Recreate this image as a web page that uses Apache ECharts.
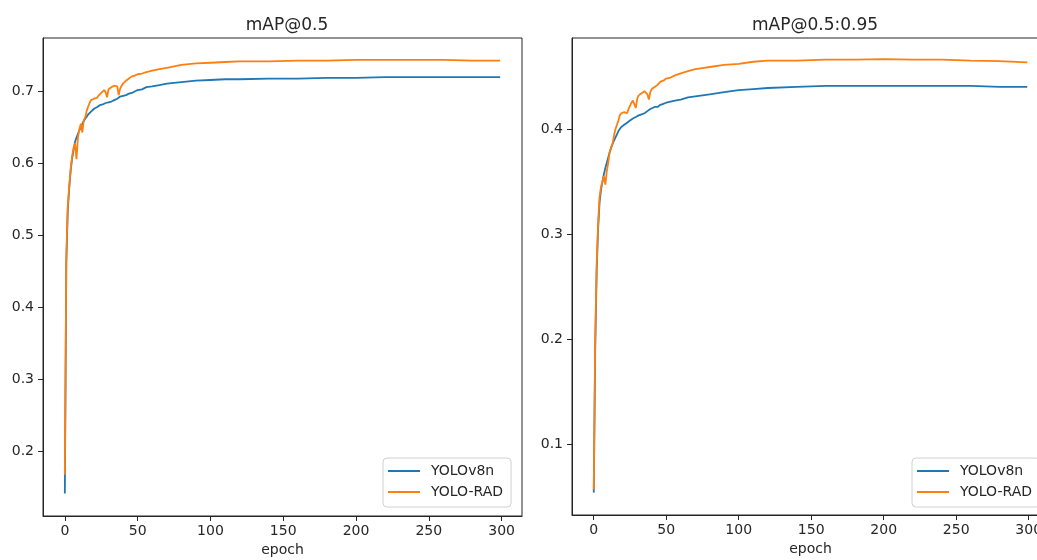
<!DOCTYPE html>
<html>
<head>
<meta charset="utf-8">
<script src="https://cdn.jsdelivr.net/npm/echarts@6/dist/echarts.min.js"></script>
<style>
  html, body { margin: 0; padding: 0; background: #fff; }
  #chart { width: 1037px; height: 560px; }
</style>
</head>
<body>
<div id="chart"></div>
<script>
// sampled epochs (dense where the curves are noisy)
const epochs = [
  0, 1, 2, 3, 4, 5, 6, 7, 8, 9,
  10, 11, 12, 13, 14, 15, 16, 17, 18, 19,
  20, 21, 22, 23, 24, 25, 26, 27, 28, 29,
  30, 31, 32, 33, 34, 35, 36, 37, 38, 39,
  40, 42, 44, 46, 48, 50, 53, 56, 60, 65,
  70, 75, 80, 90, 100, 110, 120, 140, 160, 180,
  200, 220, 240, 260, 280, 299
];

const map50V8n = [
  0.141, 0.46, 0.535, 0.565, 0.590, 0.607, 0.618, 0.630, 0.636, 0.641,
  0.646, 0.651, 0.655, 0.659, 0.662, 0.665, 0.668, 0.670, 0.672, 0.674,
  0.676, 0.677, 0.678, 0.680, 0.681, 0.681, 0.682, 0.683, 0.684, 0.684,
  0.685, 0.685, 0.686, 0.686, 0.688, 0.689, 0.690, 0.692, 0.693, 0.693,
  0.694, 0.695, 0.697, 0.698, 0.700, 0.702, 0.703, 0.706, 0.707, 0.709,
  0.711, 0.712, 0.713, 0.715, 0.716, 0.717, 0.717, 0.718, 0.718, 0.719,
  0.719, 0.720, 0.720, 0.720, 0.720, 0.720
];
const map50Rad = [
  0.167, 0.47, 0.540, 0.568, 0.592, 0.610, 0.622, 0.628, 0.606, 0.636,
  0.648, 0.655, 0.643, 0.660, 0.664, 0.673, 0.679, 0.684, 0.688, 0.689,
  0.690, 0.689, 0.691, 0.694, 0.696, 0.698, 0.700, 0.702, 0.699, 0.692,
  0.703, 0.705, 0.706, 0.707, 0.708, 0.709, 0.707, 0.695, 0.704, 0.708,
  0.711, 0.715, 0.718, 0.721, 0.722, 0.724, 0.725, 0.727, 0.729, 0.731,
  0.733, 0.735, 0.737, 0.739, 0.740, 0.741, 0.742, 0.742, 0.743, 0.743,
  0.744, 0.744, 0.744, 0.744, 0.743, 0.743
];
const map5095V8n = [
  0.054, 0.19, 0.265, 0.305, 0.330, 0.342, 0.350, 0.357, 0.363, 0.368,
  0.373, 0.378, 0.382, 0.386, 0.389, 0.392, 0.395, 0.398, 0.400, 0.402,
  0.403, 0.404, 0.405, 0.406, 0.407, 0.408, 0.409, 0.410, 0.411, 0.4115,
  0.412, 0.413, 0.413, 0.414, 0.415, 0.415, 0.416, 0.417, 0.418, 0.419,
  0.420, 0.421, 0.421, 0.423, 0.424, 0.425, 0.426, 0.427, 0.428, 0.430,
  0.431, 0.432, 0.433, 0.435, 0.437, 0.438, 0.439, 0.440, 0.441, 0.441,
  0.441, 0.441, 0.441, 0.441, 0.440, 0.440
];
const map5095Rad = [
  0.057, 0.20, 0.270, 0.310, 0.335, 0.345, 0.350, 0.355, 0.347, 0.360,
  0.368, 0.378, 0.383, 0.386, 0.394, 0.400, 0.404, 0.408, 0.413, 0.415,
  0.416, 0.416, 0.415, 0.415, 0.419, 0.422, 0.425, 0.427, 0.428, 0.420,
  0.429, 0.432, 0.433, 0.434, 0.435, 0.436, 0.437, 0.433, 0.428, 0.435,
  0.438, 0.440, 0.442, 0.445, 0.446, 0.448, 0.449, 0.451, 0.453, 0.455,
  0.457, 0.458, 0.459, 0.461, 0.462, 0.464, 0.465, 0.465, 0.466, 0.466,
  0.4665, 0.466, 0.466, 0.465, 0.4645, 0.4635
];

const xTicks = [0, 50, 100, 150, 200, 250, 300];
const yTicksLeft = [0.2, 0.3, 0.4, 0.5, 0.6, 0.7];
const yTicksRight = [0.1, 0.2, 0.3, 0.4];
const seriesNames = ['YOLOv8n', 'YOLO-RAD'];

const C_BLUE = '#1f77b4';
const C_ORANGE = '#ff7f0e';
const INK = '#262626';
const FONT = 'DejaVu Sans';

const pairs = (vals) => epochs.map((e, i) => [e, vals[i]]);

function xAxisOf(idx) {
  return {
    type: 'value', gridIndex: idx, min: -15, max: 314,
    name: 'epoch', nameLocation: 'middle', nameGap: 20,
    nameTextStyle: {color: INK, fontSize: 14, fontFamily: FONT},
    axisLine: {show: true, onZero: false, lineStyle: {color: INK, width: 1}},
    axisTick: {show: true, length: 5, customValues: xTicks, lineStyle: {color: INK}},
    axisLabel: {customValues: xTicks, color: INK, fontSize: 14, fontFamily: FONT, margin: 8},
    splitLine: {show: false}
  };
}
function yAxisOf(idx, min, max, ticks) {
  return {
    type: 'value', gridIndex: idx, min: min, max: max,
    axisLine: {show: true, onZero: false, lineStyle: {color: INK, width: 1}},
    axisTick: {show: true, length: 5, customValues: ticks, lineStyle: {color: INK}},
    axisLabel: {
      customValues: ticks, color: INK, fontSize: 14, fontFamily: FONT, margin: 9,
      formatter: v => v.toFixed(1)
    },
    splitLine: {show: false}
  };
}
function legendOf(left) {
  return {
    data: seriesNames, orient: 'vertical', left: left, top: 458,
    icon: 'rect', itemWidth: 32, itemHeight: 2, itemGap: 7,
    padding: [6, 8, 8, 5],
    backgroundColor: 'rgba(255,255,255,0.85)',
    borderColor: '#d0d0d0', borderWidth: 1, borderRadius: 4,
    textStyle: {color: INK, fontSize: 14, fontFamily: FONT, lineHeight: 14, padding: [0, 0, 0, 6]}
  };
}
function lineOf(name, vals, color, idx) {
  return {
    name: name, type: 'line', xAxisIndex: idx, yAxisIndex: idx,
    data: pairs(vals), showSymbol: false, symbol: 'none',
    lineStyle: {color: color, width: 1.8}, itemStyle: {color: color},
    emphasis: {disabled: true}
  };
}

const chart = echarts.init(document.getElementById('chart'));
chart.setOption({
  animation: false,
  textStyle: {fontFamily: FONT},
  title: [
    {text: 'mAP@0.5', left: 282, top: 12, textAlign: 'center',
     textStyle: {color: INK, fontSize: 17, fontWeight: 'normal', fontFamily: FONT}},
    {text: 'mAP@0.5:0.95', left: 810, top: 12, textAlign: 'center',
     textStyle: {color: INK, fontSize: 17, fontWeight: 'normal', fontFamily: FONT}}
  ],
  grid: [
    {left: 43, top: 38, width: 479, height: 478, outerBoundsMode: 'none', show: true, borderColor: INK, borderWidth: 1, backgroundColor: 'transparent'},
    {left: 572, top: 38, width: 477, height: 477, outerBoundsMode: 'none', show: true, borderColor: INK, borderWidth: 1, backgroundColor: 'transparent'}
  ],
  legend: [legendOf(383), legendOf(912)],
  xAxis: [xAxisOf(0), xAxisOf(1)],
  yAxis: [
    yAxisOf(0, 0.1096, 0.7744, yTicksLeft),
    yAxisOf(1, 0.0327, 0.4866, yTicksRight)
  ],
  series: [
    lineOf(seriesNames[0], map50V8n, C_BLUE, 0),
    lineOf(seriesNames[1], map50Rad, C_ORANGE, 0),
    lineOf(seriesNames[0], map5095V8n, C_BLUE, 1),
    lineOf(seriesNames[1], map5095Rad, C_ORANGE, 1)
  ]
});
</script>
</body>
</html>
